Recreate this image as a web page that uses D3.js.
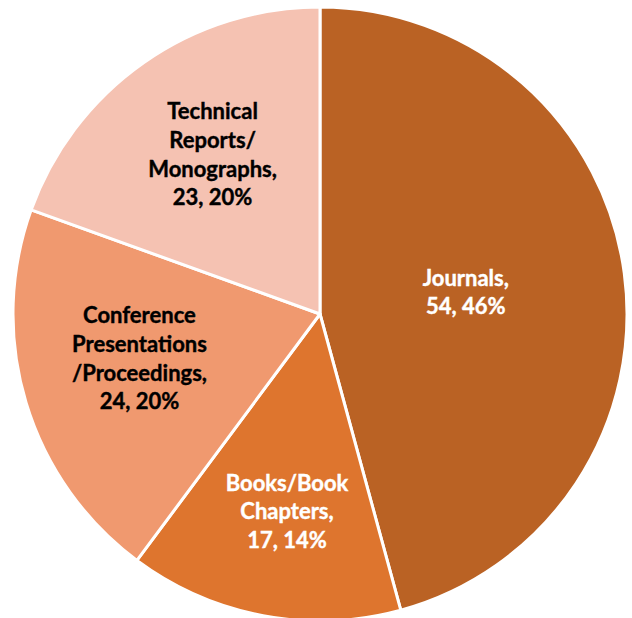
<!DOCTYPE html>
<html>
<head>
<meta charset="utf-8">
<script src="https://cdn.jsdelivr.net/npm/d3@7"></script>
<style>
  html, body { margin: 0; padding: 0; background: #fff; }
  svg text { font-family: Lato, "Open Sans", sans-serif; font-weight: bold; }
</style>
</head>
<body>
<svg id="chart" width="632" height="618"></svg>
<script>
// data
var categories = ["Journals", "Books/Book Chapters", "Conference Presentations /Proceedings", "Technical Reports/ Monographs"];
var counts = [54, 17, 24, 23];
var percents = ["46%", "14%", "20%", "20%"];
// how each label is wrapped, as in the picture
var labelLines = [
  ["Journals,", "54, 46%"],
  ["Books/Book", "Chapters,", "17, 14%"],
  ["Conference", "Presentations", "/Proceedings,", "24, 20%"],
  ["Technical", "Reports/", "Monographs,", "23, 20%"]
];

var colors = ["#BA6224", "#DE752E", "#F0996F", "#F5C2B2"];
var textColors = ["#fff", "#fff", "#000", "#000"];
// label placement: fraction of radius and small angle nudge (degrees)
var labelRadius = [0.48, 0.653, 0.606, 0.626];
var labelNudge = [-0.8, -1.2, 2.8, 1.1];

var cx = 320, cy = 314, radius = 307;
var lineGap = 28.7;

var svg = d3.select("#chart");
var g = svg.append("g").attr("transform", "translate(" + cx + "," + cy + ")");

var pie = d3.pie().sort(null).value(function (d) { return d; });
var arcs = pie(counts);
var arc = d3.arc().innerRadius(0).outerRadius(radius);

g.selectAll("path.slice")
  .data(arcs)
  .enter()
  .append("path")
  .attr("class", "slice")
  .attr("d", arc)
  .attr("fill", function (d, i) { return colors[i]; })
  .attr("stroke", "#fff")
  .attr("stroke-width", 3)
  .attr("stroke-linejoin", "round");

var labels = g.selectAll("text.lbl")
  .data(arcs)
  .enter()
  .append("text")
  .attr("class", "lbl")
  .attr("text-anchor", "middle")
  .attr("font-size", "22px")
  .attr("fill", function (d, i) { return textColors[i]; })
  .attr("stroke", function (d, i) { return textColors[i]; })
  .attr("stroke-width", 0.4)
  .each(function (d, i) {
    var a = (d.startAngle + d.endAngle) / 2 + labelNudge[i] * Math.PI / 180;
    var r = radius * labelRadius[i];
    var x = r * Math.sin(a);
    var y = -r * Math.cos(a);
    var lines = labelLines[i];
    var t = d3.select(this);
    lines.forEach(function (line, j) {
      t.append("tspan")
        .attr("x", x)
        .attr("y", y + (j - (lines.length - 1) / 2) * lineGap + 7.5)
        .text(line);
    });
  });
</script>
</body>
</html>
